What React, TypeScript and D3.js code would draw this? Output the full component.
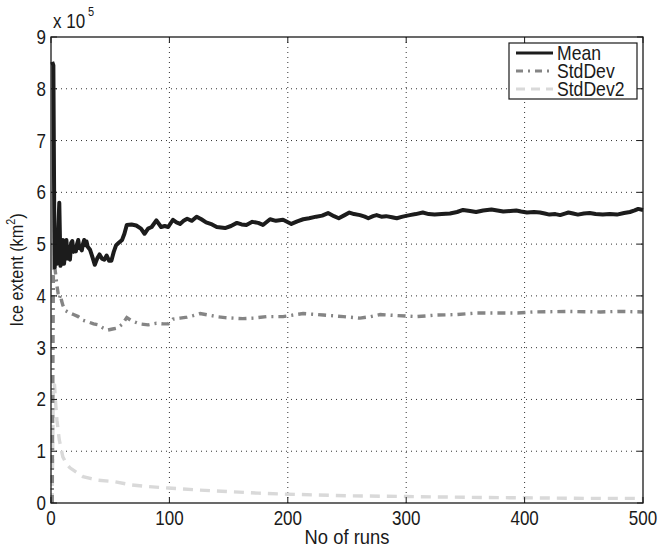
import React from "react";
import * as d3 from "d3";

const W = 659;
const H = 549;

const xTicks = [0, 100, 200, 300, 400, 500];
const yTicks = [0, 1, 2, 3, 4, 5, 6, 7, 8, 9];

const meanRuns = [1,2,3,4,5,6,7,8,9,10,11,12,13,14,15,16,17,18,19,20,21,22,23,24,25,26,27,28,29,30,31,33,35,37,39,41,43,45,47,49,51,53,55,57,60,62,64,68,72,76,79,82,85,89,93,96,99,103,106,109,112,115,119,123,127,131,136,140,147,152,157,161,165,170,175,179,185,190,196,203,208,213,218,224,229,234,239,243,248,252,256,261,265,268,272,275,279,283,288,292,297,303,308,314,319,324,330,337,343,348,354,359,365,372,377,382,388,393,397,402,408,413,417,421,426,430,434,437,441,445,450,455,460,466,472,478,484,489,493,496,500];
const meanValues = [8.52,8.45,4.55,4.75,4.62,5.2,5.8,4.58,4.7,5.08,4.62,4.85,5.08,4.72,4.95,4.7,5.02,5.06,4.85,4.95,4.86,5.0,5.08,4.92,4.95,4.88,5.0,5.08,4.98,5.05,4.95,4.89,4.75,4.6,4.72,4.8,4.72,4.7,4.78,4.68,4.68,4.85,4.98,5.02,5.08,5.2,5.37,5.38,5.36,5.3,5.2,5.3,5.33,5.46,5.33,5.35,5.33,5.47,5.42,5.39,5.45,5.49,5.45,5.53,5.48,5.42,5.38,5.33,5.31,5.35,5.41,5.38,5.37,5.43,5.41,5.37,5.48,5.45,5.47,5.39,5.44,5.48,5.5,5.53,5.55,5.6,5.54,5.5,5.56,5.61,5.58,5.56,5.53,5.5,5.54,5.56,5.53,5.54,5.52,5.5,5.53,5.56,5.58,5.61,5.58,5.57,5.58,5.59,5.62,5.66,5.64,5.62,5.65,5.67,5.65,5.63,5.64,5.65,5.63,5.61,5.62,5.61,5.59,5.57,5.58,5.56,5.59,5.61,5.59,5.57,5.59,5.6,5.58,5.57,5.58,5.57,5.6,5.62,5.65,5.68,5.66];

const stdRuns = [1,2,3,4,5,6,7,8,9,10,12,15,19,23,27,31,36,40,44,48,52,56,60,64,68,75,82,89,95,99,103,109,115,120,126,133,140,147,154,162,171,182,196,213,230,247,261,270,278,292,309,326,343,360,380,394,408,436,464,480,500];
const stdValues = [0,4.4,4.6,4.4,4.2,4.05,3.95,4.02,3.9,3.82,3.72,3.68,3.64,3.6,3.53,3.5,3.46,3.44,3.38,3.34,3.36,3.38,3.45,3.58,3.52,3.46,3.44,3.47,3.46,3.46,3.55,3.57,3.59,3.62,3.66,3.63,3.6,3.58,3.57,3.56,3.57,3.6,3.6,3.66,3.63,3.6,3.57,3.6,3.64,3.62,3.6,3.63,3.64,3.67,3.67,3.67,3.69,3.7,3.69,3.7,3.69];

const std2Runs = [1,2,3,4,5,7,10,13,16,21,27,34,40,54,68,80,99,125,150,175,200,250,300,350,400,450,500];
const std2Values = [0,2.3,2.28,1.9,1.6,1.22,0.89,0.76,0.68,0.6,0.51,0.47,0.44,0.41,0.35,0.32,0.29,0.25,0.22,0.19,0.17,0.14,0.125,0.11,0.1,0.09,0.09];

const seriesNames = ["Mean", "StdDev", "StdDev2"];

const margin = { left: 51, right: 16, top: 37, bottom: 46 };
const FONT = "'Liberation Sans', Arial, Helvetica, sans-serif";

function T({ x, y, size, anchor = "middle", sx = 0.85, children, rotate = 0 }: any) {
  return (
    <text
      transform={`translate(${x},${y}) rotate(${rotate}) scale(${sx},1)`}
      fontSize={size}
      fontFamily={FONT}
      textAnchor={anchor}
      fill="#1a1a1a"
    >
      {children}
    </text>
  );
}

export default function App() {
  const x = d3.scaleLinear().domain([0, 500]).range([margin.left, W - margin.right]);
  const y = d3.scaleLinear().domain([0, 9]).range([H - margin.bottom, margin.top]);
  const x0 = x(0), x1 = x(500), y0 = y(0), y1 = y(9);

  const line = d3
    .line<[number, number]>()
    .x((d) => x(d[0]))
    .y((d) => y(d[1]));

  const meanPath = line(meanRuns.map((r, i) => [r, meanValues[i]]))!;
  const stdPath = line(stdRuns.map((r, i) => [r, stdValues[i]]))!;
  const std2Path = line(std2Runs.map((r, i) => [r, std2Values[i]]))!;

  const tickLen = 6;
  const lx0 = 509, ly0 = 43, lw = 128, lh = 56;
  const legendStyles = [
    { stroke: "#1c1c1c", dash: undefined },
    { stroke: "#858585", dash: "7,5,2,5" },
    { stroke: "#d9d9d9", dash: "9,6" },
  ];

  return (
    <svg width={W} height={H} style={{ position: "absolute", left: 0, top: 0, background: "#fff" }}>
      <rect x={0} y={0} width={W} height={H} fill="#fff" />
      {/* grid */}
      {xTicks.slice(1, -1).map((t) => (
        <line key={"gx" + t} x1={x(t)} x2={x(t)} y1={y0} y2={y1} stroke="#333" strokeWidth={1} strokeDasharray="1,4" />
      ))}
      {yTicks.slice(1, -1).map((t) => (
        <line key={"gy" + t} x1={x0} x2={x1} y1={y(t)} y2={y(t)} stroke="#333" strokeWidth={1} strokeDasharray="1,4" />
      ))}
      {/* series */}
      <path d={std2Path} fill="none" stroke="#d9d9d9" strokeWidth={3.4} strokeDasharray="10,7" />
      <path d={stdPath} fill="none" stroke="#858585" strokeWidth={3.4} strokeDasharray="8,5,2,5" />
      <path d={meanPath} fill="none" stroke="#1c1c1c" strokeWidth={4} strokeLinejoin="round" />
      {/* axes box */}
      <rect x={x0} y={y1} width={x1 - x0} height={y0 - y1} fill="none" stroke="#1a1a1a" strokeWidth={1.3} />
      {xTicks.map((t) => (
        <g key={"tx" + t}>
          <line x1={x(t)} x2={x(t)} y1={y0} y2={y0 - tickLen} stroke="#1a1a1a" />
          <line x1={x(t)} x2={x(t)} y1={y1} y2={y1 + tickLen} stroke="#1a1a1a" />
          <T x={x(t)} y={y0 + 22} size={20}>{t}</T>
        </g>
      ))}
      {yTicks.map((t) => (
        <g key={"ty" + t}>
          <line x1={x0} x2={x0 + tickLen} y1={y(t)} y2={y(t)} stroke="#1a1a1a" />
          <line x1={x1} x2={x1 - tickLen} y1={y(t)} y2={y(t)} stroke="#1a1a1a" />
          <T x={x0 - 5} y={y(t) + 7} size={20} anchor="end">{t}</T>
        </g>
      ))}
      {/* exponent */}
      <T x={x0 + 2} y={y1 - 9} size={20} anchor="start">x 10</T>
      <T x={x0 + 37} y={y1 - 21} size={13} anchor="start">5</T>
      {/* axis labels */}
      <T x={(x0 + x1) / 2} y={H - 5} size={20} sx={0.92}>No of runs</T>
      <text
        transform={`translate(23,${(y0 + y1) / 2}) rotate(-90) scale(0.9,1)`}
        fontSize={18}
        fontFamily={FONT}
        textAnchor="middle"
        fill="#1a1a1a"
      >
        Ice extent (km<tspan fontSize={12} dy={-8}>2</tspan><tspan dy={8}>)</tspan>
      </text>
      {/* legend */}
      <rect x={lx0} y={ly0} width={lw} height={lh} fill="#fff" stroke="#1a1a1a" strokeWidth={1.2} />
      {seriesNames.map((name, i) => {
        const cy = ly0 + 10 + i * 18;
        const st = legendStyles[i];
        return (
          <g key={name}>
            <line x1={lx0 + 7} x2={lx0 + 44} y1={cy} y2={cy} stroke={st.stroke} strokeWidth={3} strokeDasharray={st.dash} />
            <T x={lx0 + 48} y={cy + 7} size={20} anchor="start" sx={0.88}>{name}</T>
          </g>
        );
      })}
    </svg>
  );
}
